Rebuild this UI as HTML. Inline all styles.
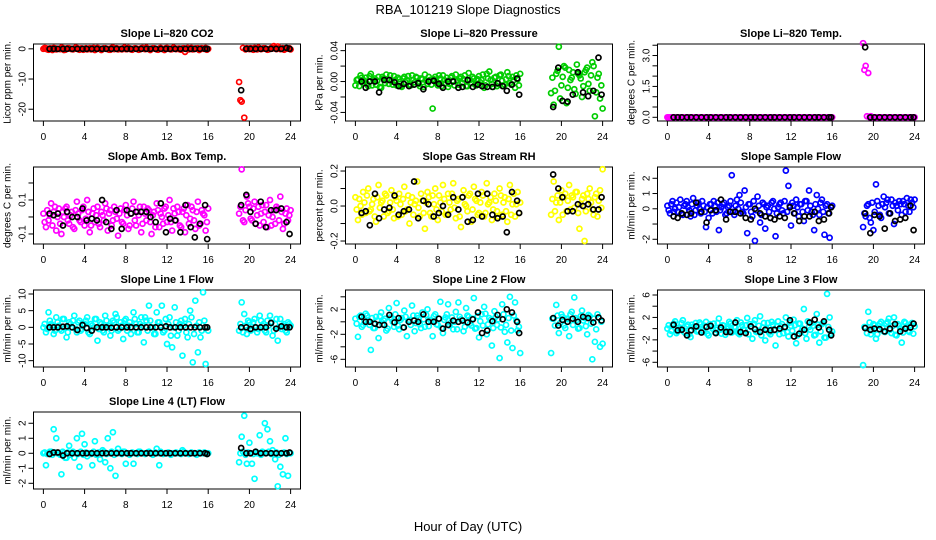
<!DOCTYPE html>
<html><head><meta charset="utf-8">
<style>
html,body{margin:0;padding:0;background:#fff;}
svg{display:block;font-family:"Liberation Sans",Arial,sans-serif;}
</style></head>
<body>
<svg id="chart" width="936" height="540" viewBox="0 0 936 540" xmlns="http://www.w3.org/2000/svg">
<rect x="0" y="0" width="936" height="540" fill="#fff"/>
<text x="468" y="14" text-anchor="middle" font-size="13">RBA_101219  Slope Diagnostics</text>
<text x="468" y="531" text-anchor="middle" font-size="13">Hour of Day (UTC)</text>
</svg>
<script>
const colorTimes = [0,0.25,0.5,0.75,1,1.25,1.5,1.75,2,2.25,2.5,2.75,3,3.25,3.5,3.75,4,4.25,4.5,4.75,5,5.25,5.5,5.75,6,6.25,6.5,6.75,7,7.25,7.5,7.75,8,8.25,8.5,8.75,9,9.25,9.5,9.75,10,10.25,10.5,10.75,11,11.25,11.5,11.75,12,12.25,12.5,12.75,13,13.25,13.5,13.75,14,14.25,14.5,14.75,15,15.25,15.5,15.75,16,
19,19.25,19.5,19.75,20,20.25,20.5,20.75,21,21.25,21.5,21.75,22,22.25,22.5,22.75,23,23.25,23.5,23.75,24];
const colorTimes2 = [0.125,0.375,0.625,0.875,1.125,1.375,1.625,1.875,2.125,2.375,2.625,2.875,3.125,3.375,3.625,3.875,4.125,4.375,4.625,4.875,5.125,5.375,5.625,5.875,6.125,6.375,6.625,6.875,7.125,7.375,7.625,7.875,8.125,8.375,8.625,8.875,9.125,9.375,9.625,9.875,10.125,10.375,10.625,10.875,11.125,11.375,11.625,11.875,12.125,12.375,12.625,12.875,13.125,13.375,13.625,13.875,14.125,14.375,14.625,14.875,15.125,15.375,15.625,15.875,
19.125,19.375,19.625,19.875,20.125,20.375,20.625,20.875,21.125,21.375,21.625,21.875,22.125,22.375,22.625,22.875,23.125,23.375,23.625,23.875];
const blackTimes = [0.6,1,1.4,1.9,2.3,2.8,3.3,3.8,4.2,4.7,5.2,5.7,6.1,6.6,7.1,7.6,8.1,8.5,9,9.5,10,10.4,10.9,11.4,11.9,12.3,12.8,13.3,13.8,14.3,14.7,15.2,15.7,15.9,
19.2,19.7,20.1,20.6,21.1,21.6,22.1,22.6,23.1,23.6,23.9];
const xTicks = [0,4,8,12,16,20,24];

const titles = ["Slope Li\u2013820 CO2","Slope Li\u2013820 Pressure","Slope Li\u2013820 Temp.","Slope Amb. Box Temp.","Slope Gas Stream RH","Slope Sample Flow","Slope Line 1 Flow","Slope Line 2 Flow","Slope Line 3 Flow","Slope Line 4 (LT) Flow"];
const yTitles = ["Licor ppm per min.","kPa per min.","degrees C per min.","degrees C per min.","percent per min.","ml/min per min.","ml/min per min.","ml/min per min.","ml/min per min.","ml/min per min."];
const colors = ["#ff0000","#00cd00","#ff00ff","#ff00ff","#ffff00","#0000ff","#00ffff","#00ffff","#00ffff","#00ffff"];
const yDomains = [[-23.9,1.6],[-0.0511,0.0486],[-0.18,3.56],[-0.159,0.294],[-0.217,0.223],[-2.31,2.74],[-11.9,11.2],[-7.23,5.09],[-6.84,6.89],[-2.38,2.75]];
const yTicks = [[-20,-10,0],[-0.04,-0.02,0,0.02,0.04],[0,0.5,1,1.5,2,2.5,3,3.5],[-0.1,0,0.1,0.2],[-0.2,-0.1,0,0.1,0.2],[-2,-1,0,1,2],[-10,-5,0,5,10],[-6,-4,-2,0,2,4],[-6,-4,-2,0,2,4,6],[-2,-1,0,1,2]];
const yTickLabels = [["-20","-10","0"],["-0.04","","0.00","","0.04"],["0.0","","","1.5","","","3.0",""],["-0.1","","0.1",""],["-0.2","","0.0","","0.2"],["-2","","0","1","2"],["-10","-5","0","5","10"],["-6","","-2","","2",""],["-6","","-2","","2","","6"],["-2","-1","0","1","2"]];

const co2Color = [0,0.2,-0.3,0.1,0.3,-0.2,0,0.4,-0.4,0.1,0.2,-0.1,0,0.3,-0.3,0.1,0,-0.2,0.2,0.1,-0.4,0.3,0,-0.1,0.2,0,-0.3,0.4,0.1,-0.2,0,0.2,-0.1,0.3,-0.2,0,0.1,-0.3,0.2,0,0.4,-0.1,0,0.2,-0.2,0.1,0,-0.4,0.3,0,-0.1,0.2,0,-0.2,0.1,-1.0,0.3,0,-0.2,0.1,0.2,-0.1,0,0.3,0,
-11,-17.5,-22.8,0.2,-0.1,0,0.3,-0.2,0.1,0,0.2,-0.3,0,0.1,0.4,0.8,-0.1,0.2,0,0.1,-0.2];
const co2Color2 = [0.3,-0.2,0.1,-0.4,0.2,0,-0.1,0.3,-0.3,0.2,0,-0.2,0.4,-0.1,0.1,-0.3,0.2,0,-0.2,0.3,-0.1,0.1,-0.4,0.2,0,-0.3,0.3,-0.1,0.2,0,-0.2,0.4,-0.1,0.1,-0.3,0.2,0,-0.2,0.3,-0.1,0.1,-0.4,0.2,0,-0.3,0.3,-0.1,0.2,0,-0.2,0.4,-0.1,0.1,-0.3,0.2,0,-0.2,0.3,-0.1,0.1,-0.4,0.2,0,-0.3,
-17,0.3,-0.2,0.1,0.2,-0.3,0,0.4,-0.1,0.2,0,-0.2,0.3,0.9,-0.1,0.2,0,-0.3,0.1,0.2];
const co2Black = [0,0,0,0,0,0,0,0,0,0,0,0,0,0,0,0,0,0,0,0,0,0,0,0,0,0,0,0,0,0,0,0,0,0,-13.7,0,0,0,0,0,0,0,0,0.3,0];
const presColor = [-0.005,0.003,0.008,-0.002,0.005,-0.006,0.01,0.002,-0.004,0.006,-0.008,0.004,0.009,-0.003,0.001,0.007,-0.005,0.003,-0.007,0.006,0.002,-0.004,0.008,-0.001,0.005,-0.006,0.003,0.009,-0.003,0.002,-0.035,0.006,-0.005,0.004,0.008,-0.002,-0.007,0.005,0.001,0.009,-0.004,0.006,0.003,-0.006,0.011,-0.002,0.004,-0.005,0.007,0.002,-0.008,0.01,0.013,-0.003,0.005,-0.006,0.008,0.001,-0.004,0.012,-0.002,0.006,-0.008,0.003,0.01,
-0.015,-0.03,0.01,0.045,-0.005,0.02,-0.028,0.015,0.005,-0.01,0.022,0.008,-0.02,0.012,0.018,-0.012,0.025,-0.045,0.005,-0.022,-0.035];
const presColor2 = [0.002,-0.006,0.005,0.001,-0.003,0.007,-0.005,0.004,0.001,-0.007,0.006,-0.002,0.003,0.008,-0.004,0.002,0.005,-0.006,0.004,-0.001,0.007,-0.005,0.002,0.006,-0.003,0.004,-0.007,0.001,0.006,-0.004,0.003,-0.001,0.008,-0.006,0.002,0.005,-0.003,0.007,-0.005,0.001,0.004,-0.002,0.008,-0.006,0.002,0.006,-0.004,0.003,-0.001,0.009,-0.005,0.004,0.002,-0.007,0.006,-0.003,0.009,-0.006,0.003,0.007,-0.004,0.002,0.008,-0.005,
0.005,-0.012,0.014,-0.022,0.006,0.018,-0.008,0.002,0.012,-0.016,0.01,0.004,-0.006,0.015,-0.003,0.008,0.02,-0.014,0.01,-0.005];
const presBlack = [0,-0.008,0,0,-0.014,0.002,0.002,-0.001,-0.006,-0.003,-0.006,-0.004,-0.002,-0.01,0,0.001,-0.003,-0.008,0,0,-0.008,-0.007,0.002,-0.007,-0.004,-0.006,-0.007,-0.007,-0.002,-0.006,-0.012,-0.004,0.004,-0.017,
-0.033,0.018,-0.025,-0.026,-0.017,0.012,-0.014,-0.019,-0.012,0.031,-0.017];
const tempColor = [0,0,0,0,0,0,0,0,0,0,0,0,0,0,0,0,0,0,0,0,0,0,0,0,0,0,0,0,0,0,0,0,0,0,0,0,0,0,0,0,0,0,0,0,0,0,0,0,0,0,0,0,0,0,0,0,0,0,0,0,0,0,0,0,0,
3.6,2.5,2.15,0.05,0,0,0,0,0,0,0,0,0,0,0,0,0,0,0,0,0];
const tempColor2 = [0,0,0,0,0,0,0,0,0,0,0,0,0,0,0,0,0,0,0,0,0,0,0,0,0,0,0,0,0,0,0,0,0,0,0,0,0,0,0,0,0,0,0,0,0,0,0,0,0,0,0,0,0,0,0,0,0,0,0,0,0,0,0,0,
2.3,0.05,0,0,0,0,0,0,0,0,0,0,0,0,0,0,0,0,0,0];
const tempBlack = [0,0,0,0,0,0,0,0,0,0,0,0,0,0,0,0,0,0,0,0,0,0,0,0,0,0,0,0,0,0,0,0,0,0,3.4,0,0,0,0,0,0,0,0,0,0];
const ambColor = [0.02,-0.06,-0.02,0.08,0.03,-0.08,0.05,-0.1,0,0.06,-0.04,0.03,-0.07,0.09,-0.02,0.04,-0.05,0.1,-0.09,0.02,-0.03,0.06,-0.06,0.01,0.08,-0.08,0.04,-0.02,0.03,-0.11,0.05,-0.04,0.07,-0.07,0.02,0.09,-0.05,0.01,-0.09,0.06,-0.02,0.04,-0.1,0.03,0.08,-0.06,0,0.05,-0.03,0.1,-0.08,0.02,0.06,-0.05,0.03,-0.09,0.07,-0.01,0.04,-0.07,0.09,-0.04,0.02,-0.08,0.05,
0.02,0.28,-0.03,0.12,0.06,-0.02,0.09,0.01,-0.05,0.07,0.03,-0.06,0.1,0,-0.04,0.05,0.12,-0.07,0.02,-0.02,0.04];
const ambColor2 = [-0.03,0.04,0.01,-0.05,0.06,0,-0.04,0.03,0.05,-0.02,0.01,-0.06,0.04,0.02,-0.03,0.06,-0.01,0.03,-0.05,0.05,0.01,-0.04,0.03,-0.02,0.05,0.02,-0.05,0.06,-0.01,0.02,-0.03,0.04,0.01,-0.05,0.05,-0.02,0.03,0.06,-0.04,0.02,0.05,-0.03,0.01,-0.06,0.04,0.02,-0.04,0.06,0.01,-0.03,0.05,-0.02,0.03,-0.06,0.05,0.01,-0.04,0.06,-0.02,0.03,-0.05,0.04,0.01,-0.03,
0.06,-0.02,0.04,0.08,-0.01,0.05,-0.04,0.06,0.02,-0.03,0.07,0.01,-0.05,0.04,0.06,-0.02,0.03,-0.04,0.05,0.01];
const ambBlack = [0.02,0.01,0.02,-0.05,0.03,0,0,0.05,-0.02,-0.01,-0.02,0.1,-0.03,-0.07,0.04,-0.07,0.04,0.02,0.03,0.03,0.03,0,-0.03,0.08,-0.09,-0.01,-0.02,-0.09,0.07,-0.06,-0.12,-0.04,0.07,-0.13,
0.07,0.13,0.03,-0.04,0.09,-0.06,0.04,0.04,0.05,-0.03,-0.1];
const rhColor = [0.05,-0.08,0,0.08,-0.04,0.1,-0.02,0.04,-0.09,0.12,0.02,-0.06,0.06,-0.03,0.09,-0.07,0.03,0.07,-0.05,0.11,-0.02,-0.1,0.05,0.01,0.14,-0.06,0.03,-0.13,0.08,-0.04,0.06,0.1,-0.08,0.02,0.12,-0.05,0.07,-0.02,0.13,-0.07,0.04,-0.12,0.09,0,0.06,-0.09,0.11,0.03,-0.04,0.08,-0.06,0.13,0.02,-0.08,0.07,-0.03,0.1,-0.05,0.05,-0.09,0.12,0.01,-0.06,0.08,0.02,
-0.05,0.14,0.02,-0.08,0.09,0.05,-0.03,0.12,0.06,-0.01,0.08,-0.13,0.04,-0.2,0.07,0.1,-0.02,0.05,-0.06,0.09,0.21];
const rhColor2 = [-0.02,0.04,-0.05,0.02,0.06,-0.03,0.01,-0.06,0.05,-0.01,0.03,0.07,-0.04,0.02,-0.02,0.05,-0.06,0.01,0.04,-0.03,0.06,0.02,-0.05,0.03,-0.01,0.07,-0.04,0.02,0.05,-0.06,0.01,-0.02,0.06,-0.03,0.04,-0.05,0.02,0.07,-0.01,0.03,-0.06,0.05,0.01,-0.03,0.07,-0.02,0.04,-0.05,0.02,0.06,-0.04,0.01,0.05,-0.02,0.03,-0.06,0.06,0.02,-0.03,0.04,-0.05,0.07,0.01,-0.04,
0.04,-0.03,0.06,0.02,-0.05,0.07,0.03,-0.02,0.05,0.08,-0.04,0.01,0.06,-0.03,0.04,0.02,-0.05,0.07,0.03,-0.01];
const rhBlack = [-0.04,-0.03,-0.11,0.07,-0.07,-0.02,-0.01,0.06,-0.05,-0.03,-0.02,0.14,-0.07,0.03,0.01,-0.06,-0.04,0,-0.05,0.05,-0.02,0.05,-0.09,-0.08,0.07,-0.06,0.07,-0.05,-0.07,-0.06,-0.15,0.08,0.03,-0.04,
0.18,0.1,0.05,-0.03,-0.03,0.01,0,0.01,-0.02,-0.02,0.05];
const sampleColor = [0.2,-0.3,0.5,0,-0.2,0.6,-0.4,0.3,0.1,-0.5,0.7,-0.1,0.4,-0.3,0.2,-1.2,-0.6,0.3,0.5,-0.2,-1.4,0.1,0.4,-0.3,0.2,2.2,-0.4,0.6,0.9,-0.2,1.2,-1.6,0.3,-0.5,-2.1,0.8,-0.9,0.4,-1.3,0.2,-0.6,0.5,-1.8,0.1,0.4,-0.3,2.5,1.5,-1.1,0.2,0.6,-0.5,0.3,-0.8,0.5,1.2,-0.2,-1.4,0.9,-0.4,0.6,-1.7,0.3,-1.9,0.2,
-1.2,-0.5,0.3,-0.9,-1.4,1.6,0.2,-0.6,0.8,0.4,-0.3,0.6,-1.0,0.2,0.5,-0.4,0.3,0.7,-0.2,0.4,0.6];
const sampleColor2 = [-0.1,0.3,-0.2,0.4,0.1,-0.3,0.2,0.5,-0.1,0.3,-0.4,0.2,0,0.5,-0.2,0.1,0.3,-0.3,0.2,0.4,-0.1,0.3,-0.4,0.1,0.5,-0.2,0.2,0,0.4,-0.3,0.1,0.3,-0.2,0.5,-0.1,0.2,-0.4,0.3,0.1,-0.2,0.4,0,-0.3,0.3,-0.1,0.5,-0.2,0.2,0.4,-0.3,0.1,0.3,-0.2,0.5,-0.1,0.2,-0.4,0.3,0,0.4,-0.2,0.2,-0.3,0.1,
-0.3,0.2,-0.6,0.4,-0.2,0.5,-0.4,0.3,0.1,0.6,-0.3,0.2,0.4,-0.1,0.3,0.5,-0.2,0.2,0.6,0.1];
const sampleBlack = [-0.5,-0.6,-0.3,-0.4,-0.3,0.4,-0.2,-0.9,-0.1,-0.1,0.6,-0.7,-0.2,-0.2,-0.3,-0.6,-0.7,0,-0.3,-0.5,-0.6,-0.7,-0.5,-0.6,0.1,-0.3,-0.8,-0.5,-0.5,-0.2,-0.8,-0.7,-0.3,0.1,
-0.3,-1.6,-0.4,-0.5,-1.3,-0.3,-0.8,-0.7,-0.6,0.2,-1.4];
const line1Color = [0,-1.5,4.5,1,-2,3,0.5,-1,2.5,-3,1.5,0,3.5,-1.5,2,-0.5,1,3,-2,0.5,2.5,-4,1.5,-1,3.5,0,-2.5,2,4,-1,1.5,-3.5,2.5,0.5,-2,4.5,1,-1.5,3,-4.5,2,6.5,0,-2,4.5,1.5,6.5,-1,-5,3,-6,6,-2.5,1,-8.5,2.5,-3,5,-10.5,8,-7.5,-3,10.5,-11,-1,
-1,7.5,4,-2,1.5,-0.5,2.5,-1.5,3.5,0.5,-1,2,3.5,-2.5,1,-4,2.5,0.5,-1,1.5,0.5];
const line1Color2 = [1,-0.5,2,0.5,-1,1.5,-0.5,2.5,0,-1.5,1,2,-0.5,1.5,-1,0.5,2,-1.5,1,0,2.5,-0.5,1,-1.5,2,0.5,-1,1.5,3,-0.5,0.5,2,-1,1.5,0,2.5,-1.5,1,0.5,3,-1,2,0,-2,1.5,0.5,-1.5,2.5,1,-2.5,0,1.5,-1,2,0.5,-1.5,1,3,-2,0.5,1.5,-1,2,0,
1,-1.5,0.5,2,-1,1.5,0,-0.5,2,1,-1.5,0.5,1.5,-1,2.5,0,-0.5,1,-1.5,1];
const line1Black = [0,0,0,0.2,0.3,0,-0.8,0.7,-0.2,-1,0,0,0,-0.1,0,0,0,0,0,0,0,0,0,0,0.3,0,0,0,0,0,0,0,0,0,
0,0,-0.5,0,0,0,1.3,-0.4,0.3,0,0];
const line2Color = [0.5,-2.4,1,-0.5,1.3,0,-4.5,-1,0.8,-2.6,1.5,0.2,-1.4,2.2,0.5,-0.8,3,-1.2,0.6,1.8,-2.3,0.3,2.6,-1.5,1,-0.4,1.5,-0.8,2,0.3,-2.3,1.2,-0.5,3.2,-1.8,0.7,2.8,-0.2,-1.2,1.6,3.1,0.4,-1.5,2.2,0.8,-0.6,3.8,-1,-2.5,1.2,2.4,-2,0.6,-3.8,1.7,-0.5,-5.8,2.8,-1.6,-3.3,4,-4.2,3.1,-1.4,-5,
-5,0.5,2.7,-1.8,1.2,-0.6,0.5,-2.3,1.6,3.9,0.3,-1,1.8,0.6,-2,0.9,-6,-3.2,1.2,-4,-3.5];
const line2Color2 = [-0.3,0.8,-0.8,0.3,1,-0.5,0.6,-1,0.2,0.9,-0.4,0.5,-1.1,0.7,0,1.2,-0.6,0.3,-0.9,0.8,0.1,-0.5,1,-0.2,0.6,-1,0.4,1.1,-0.7,0.2,0.9,-0.4,0.5,-1,0.3,1.2,-0.6,0.7,0,-1.2,0.8,0.2,-0.8,1,-0.3,0.5,-1.1,0.9,0.1,-0.6,1.3,-0.4,0.3,-1,0.8,0.4,-0.9,1.2,-0.5,0.6,-1.4,1,0.2,-0.8,
0.5,-0.6,1,-0.2,0.8,-1,0.4,1.2,-0.5,0.6,-1.1,0.9,0.2,-0.7,1.1,-0.3,0.5,-1.2,0.7,0];
const line2Black = [0.8,0,0,-0.3,-0.5,-0.5,1.1,-0.1,0.6,-0.9,0,0.2,0,1.2,0,0,0.5,-1.1,-0.5,0.2,0,0.2,-0.1,0.4,1.5,-1.8,-1.4,0.1,1.1,0.4,2,1.5,0,-1.8,
0.6,-0.6,0.3,0,0.5,0,0.8,0.6,-0.1,0.7,0.2];
const line3Color = [0,-1,0.5,1.3,-0.5,0,1.5,-0.8,0.7,-1.5,0.3,1,-0.3,0.8,-0.6,1.2,-1.2,0.4,0.9,-0.2,1.8,-0.9,0.5,0,1.2,-0.7,0.3,1.5,-1,0.6,-0.3,1.9,0.8,-1.8,1.5,-0.5,2.2,0.2,-2.1,1,-1,0.7,-3,1.3,0.4,-0.8,2,-1.4,0.5,1.6,-2.6,0.9,-0.5,3.5,-1.8,0.3,1,-1.2,2.6,-2.5,0.8,-1.6,6.2,2,-0.5,
-6.5,0.2,3,-1,0.8,-1.8,0.5,1.2,-0.5,0.9,1.8,-0.8,2,-1.2,0.5,-2.5,1.2,0.2,-0.6,1,0.4];
const line3Color2 = [0.6,-0.4,0.9,-0.8,0.2,1,-0.6,0.4,-1,0.7,0.1,-0.5,1.1,-0.3,0.5,-0.9,0.8,0,-0.7,1,-0.2,0.6,-1.1,0.4,0.9,-0.5,0.2,-0.8,1.1,-0.1,0.6,-1,0.3,0.9,-0.6,0.5,-1.2,1,0,-0.7,1.2,-0.3,0.4,-1,0.8,0.1,-0.6,1.1,-0.4,0.6,-1.2,0.9,0,-0.8,1.3,-0.2,0.5,-1.1,0.7,-0.5,1,-1.6,0.3,-0.9,
0.3,-0.8,1.1,-0.3,0.6,-1,0.9,0.1,-0.6,1.2,-0.2,0.5,-1.1,0.8,0,-0.7,1,-0.4,0.6,-0.9];
const line3Black = [0.7,-0.3,-0.2,-1.2,-0.3,0.4,-0.7,0.3,0.5,-0.8,0.2,-0.6,-0.6,1.1,-0.6,-0.8,0.4,-0.1,-0.6,-0.2,-0.3,-0.2,0,0.3,1.5,-1.4,-0.9,-0.2,1.1,1.6,0.2,1.3,-0.2,-1.2,
0.1,-0.2,0,-0.1,-0.5,0,0.8,-0.5,0,0.2,0.9];
const line4Color = [0,-0.8,0,0.1,1.6,1.0,0,-1.4,0,-0.3,0.5,0,-0.3,1.0,-0.9,1.3,0.6,-0.2,0,-0.8,0.8,0,-0.4,0.2,-0.6,1.0,-1.0,1.4,-1.5,0.3,0,0.1,-0.7,0,0,-0.7,0,0.1,0,0,0,0.1,0,0,0.3,-0.8,0,0,0,0,0,0,0,0,0.2,0,0,0,0,0,0,0,0,0,0,
-0.6,1.1,2.5,-0.7,0.7,-0.7,-1.7,0,1.2,0.1,2,1.6,0.8,0.2,-0.4,-2.2,-0.9,-1.4,1.0,-1.5,0];
const line4Color2 = [0.05,-0.05,0.1,-0.1,0.05,0,-0.1,0.1,-0.3,0.05,-0.1,0.1,0,-0.05,0.1,-0.1,0.05,0,-0.05,0.1,-0.1,0.05,0,0.1,-0.05,0,0.1,-0.1,0.05,0,-0.05,0.1,0,-0.1,0.05,0,-0.05,0.1,0,-0.05,0.05,0,-0.1,0.05,0,0.1,-0.05,0,0.05,-0.1,0,0.05,0,-0.05,0.1,0,-0.05,0.05,0,-0.1,0.05,0,0.05,-0.05,
0,0.1,-0.1,0.05,0,-0.05,0.1,0,-0.1,0.05,0,0.1,-0.05,0,0.05,-0.1,0,0.05,-0.05,0];
const line4Black = [-0.05,0.05,0.05,-0.15,0,0,0,0,0,0,0,0,0,0,0,0,0,0,0,0,0,0,0,0,0,0,0,0,0,0,0,0,0,-0.05,
0.35,0,0,0.1,0,0,0,0,0,0,0.05];

const colorSeries = [co2Color,presColor,tempColor,ambColor,rhColor,sampleColor,line1Color,line2Color,line3Color,line4Color];
const colorSeries2 = [co2Color2,presColor2,tempColor2,ambColor2,rhColor2,sampleColor2,line1Color2,line2Color2,line3Color2,line4Color2];
const blackSeries = [co2Black,presBlack,tempBlack,ambBlack,rhBlack,sampleBlack,line1Black,line2Black,line3Black,line4Black];

const NS = "http://www.w3.org/2000/svg";
const svg = document.getElementById('chart');
const colLeft = [33.5, 345.5, 657.5];
const rowTop = [44, 167, 290, 412];
const boxW = 267, boxH = 77;
const xDom = [-0.96, 24.96];

function mk(tag, attrs, parent) {
  const e = document.createElementNS(NS, tag);
  for (const k in attrs) e.setAttribute(k, attrs[k]);
  parent.appendChild(e);
  return e;
}

for (let p = 0; p < 10; p++) {
  const L = colLeft[p % 3], T = rowTop[Math.floor(p / 3)];
  const yd = yDomains[p];
  const xs = v => L + (v - xDom[0]) / (xDom[1] - xDom[0]) * boxW;
  const ys = v => T + boxH - (v - yd[0]) / (yd[1] - yd[0]) * boxH;
  const g = mk('g', {}, svg);
  
  

  const ttl = mk('text', {x: L + boxW / 2, y: T - 7, 'text-anchor': 'middle', 'font-size': 11, 'font-weight': 'bold'}, g);
  ttl.textContent = titles[p];
  
  

  const xa = mk('g', {stroke: '#000', 'stroke-width': 1}, g);
  
  
  mk('line', {x1: xs(0), x2: xs(24), y1: T + boxH, y2: T + boxH}, xa);
  xTicks.forEach(t => {
    mk('line', {x1: xs(t), x2: xs(t), y1: T + boxH, y2: T + boxH + 5}, xa);
    const tl = mk('text', {x: xs(t), y: T + boxH + 19, 'text-anchor': 'middle', 'font-size': 10, stroke: 'none', fill: '#000'}, g);
    tl.textContent = String(t);
    
    
  });

  const ya = mk('g', {stroke: '#000', 'stroke-width': 1}, g);
  
  
  const yt = yTicks[p];
  mk('line', {x1: L, x2: L, y1: ys(yt[0]), y2: ys(yt[yt.length - 1])}, ya);
  yt.forEach((t, i) => {
    mk('line', {x1: L - 5, x2: L, y1: ys(t), y2: ys(t)}, ya);
    const lab = yTickLabels[p][i];
    if (lab) {
      const tl = mk('text', {x: 0, y: 0, transform: `translate(${L - 8},${ys(t)}) rotate(-90)`, 'text-anchor': 'middle', 'font-size': 10, fill: '#000'}, g);
      tl.textContent = lab;
      
      
    }
  });
  const yl = mk('text', {x: 0, y: 0, transform: `translate(${L - 23},${T + boxH / 2}) rotate(-90)`, 'text-anchor': 'middle', 'font-size': 10, fill: '#000'}, g);
  yl.textContent = yTitles[p];
  
  

  const bx = mk('rect', {x: L, y: T, width: boxW, height: boxH, fill: 'none', stroke: '#000', 'stroke-width': 1}, g);
  
  

  const cg = mk('g', {fill: 'none', stroke: colors[p], 'stroke-width': 1.7}, g);
  
  
  colorSeries[p].forEach((v, i) => {
    const c = mk('circle', {cx: xs(colorTimes[i]), cy: ys(v), r: 2.5}, cg);
    
    
  });
  colorSeries2[p].forEach((v, i) => {
    const c = mk('circle', {cx: xs(colorTimes2[i]), cy: ys(v), r: 2.5}, cg);
    
    
  });
  const bg = mk('g', {fill: 'none', stroke: '#000', 'stroke-width': 1.7}, g);
  
  
  blackSeries[p].forEach((v, i) => {
    const c = mk('circle', {cx: xs(blackTimes[i]), cy: ys(v), r: 2.5}, bg);
    
    
  });
}
</script>
</body></html>
